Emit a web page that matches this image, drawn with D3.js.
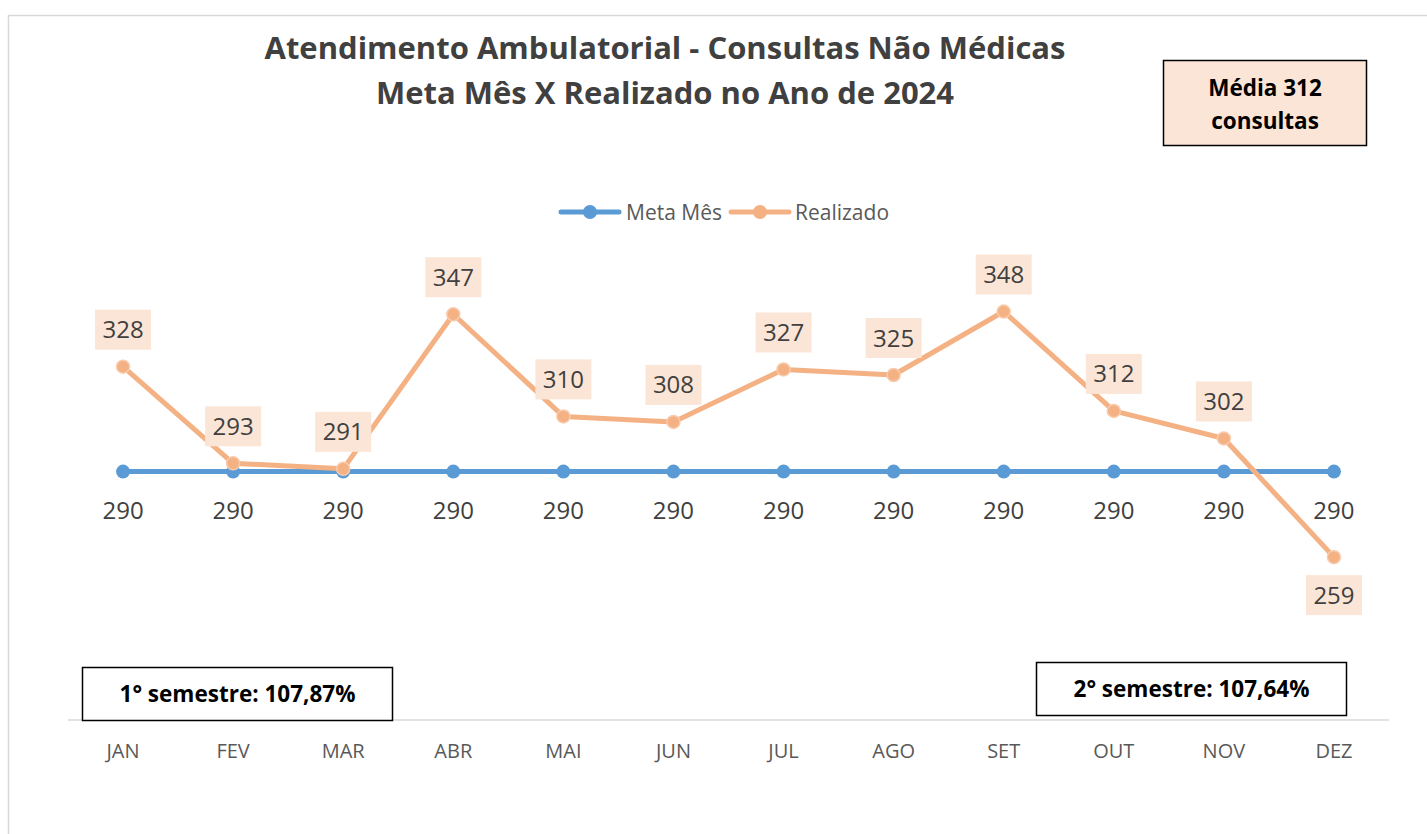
<!DOCTYPE html>
<html>
<head>
<meta charset="utf-8">
<script src="https://cdn.jsdelivr.net/npm/d3@7"></script>
<style>
  body { margin: 0; background: #fff; }
  svg { display: block; font-family: "Open Sans", sans-serif; }
</style>
</head>
<body>
<svg id="chart"></svg>
<script>
// Chart data
const months = ['JAN', 'FEV', 'MAR', 'ABR', 'MAI', 'JUN', 'JUL', 'AGO', 'SET', 'OUT', 'NOV', 'DEZ'];
const metaMes = [290, 290, 290, 290, 290, 290, 290, 290, 290, 290, 290, 290];
const realizado = [328, 293, 291, 347, 310, 308, 327, 325, 348, 312, 302, 259];
const titleLines = ['Atendimento Ambulatorial - Consultas Não Médicas', 'Meta Mês X Realizado no Ano de 2024'];
const mediaLines = ['Média 312', 'consultas'];
const semestreLabels = ['1° semestre: 107,87%', '2° semestre: 107,64%'];

const W = 1427, H = 834;
const blue = '#5B9BD5', orange = '#F4B183', peach = '#FBE5D6';

const svg = d3.select('#chart').attr('width', W).attr('height', H);

// faint outer frame of the chart area
svg.append('path')
    .attr('d', `M8.5,${H} L8.5,15.5 L${W},15.5`)
    .attr('fill', 'none')
    .attr('stroke', '#d9d9d9')
    .attr('stroke-width', 1.5);

// Scales
const x = d3.scaleBand().domain(months).range([68, 1389]);
const y = d3.scaleLinear().domain([200, 400]).range([720, 168]);
const cx = m => x(m) + x.bandwidth() / 2;

// Title
svg.append('g').selectAll('text')
    .data(titleLines)
  .join('text')
    .attr('x', 665)
    .attr('y', (d, i) => 59 + i * 45)
    .attr('text-anchor', 'middle')
    .attr('font-size', 31)
    .attr('font-weight', 700)
    .attr('fill', '#404040')
    .text(d => d);

// Média box
const media = svg.append('g');
media.append('rect')
    .attr('x', 1163.5).attr('y', 60.5)
    .attr('width', 203).attr('height', 85)
    .attr('fill', peach).attr('stroke', '#000').attr('stroke-width', 1.5);
media.selectAll('text')
    .data(mediaLines)
  .join('text')
    .attr('x', 1265)
    .attr('y', (d, i) => 96 + i * 33)
    .attr('text-anchor', 'middle')
    .attr('font-size', 22.5)
    .attr('font-weight', 700)
    .attr('fill', '#000')
    .text(d => d);

// Legend
const legend = svg.append('g');
const legendItems = [
  { name: 'Meta Mês', color: blue, x0: 561, tx: 626 },
  { name: 'Realizado', color: orange, x0: 731, tx: 795 }
];
legendItems.forEach(it => {
  legend.append('line')
      .attr('x1', it.x0).attr('x2', it.x0 + 58)
      .attr('y1', 212).attr('y2', 212)
      .attr('stroke', it.color).attr('stroke-width', 5).attr('stroke-linecap', 'round');
  legend.append('circle')
      .attr('cx', it.x0 + 29).attr('cy', 212).attr('r', 7)
      .attr('fill', it.color);
  legend.append('text')
      .attr('x', it.tx).attr('y', 219.5)
      .attr('font-size', 21)
      .attr('fill', '#595959')
      .text(it.name);
});

// X axis
svg.append('line')
    .attr('x1', 68).attr('x2', 1389)
    .attr('y1', 720).attr('y2', 720)
    .attr('stroke', '#d9d9d9').attr('stroke-width', 1.5);
svg.append('g').selectAll('text')
    .data(months)
  .join('text')
    .attr('x', d => cx(d))
    .attr('y', 758)
    .attr('text-anchor', 'middle')
    .attr('font-size', 20)
    .attr('fill', '#595959')
    .text(d => d);

// Semester boxes
const semBoxes = [
  { x0: 82.5, y0: 667.5, w: 310, h: 53 },
  { x0: 1036.5, y0: 662.5, w: 310, h: 53 }
];
semBoxes.forEach((b, i) => {
  svg.append('rect')
      .attr('x', b.x0).attr('y', b.y0).attr('width', b.w).attr('height', b.h)
      .attr('fill', '#fff').attr('stroke', '#000').attr('stroke-width', 1.5);
  svg.append('text')
      .attr('x', b.x0 + b.w / 2).attr('y', b.y0 + b.h / 2 + 8)
      .attr('text-anchor', 'middle')
      .attr('font-size', 22.5)
      .attr('font-weight', 700)
      .attr('fill', '#000')
      .text(semestreLabels[i]);
});

// Lines
const line = d3.line().x(d => cx(d.m)).y(d => y(d.v));
const metaData = months.map((m, i) => ({ m, v: metaMes[i] }));
const realData = months.map((m, i) => ({ m, v: realizado[i] }));

svg.append('path')
    .datum(metaData)
    .attr('d', line)
    .attr('fill', 'none')
    .attr('stroke', blue).attr('stroke-width', 5);
svg.append('g').selectAll('circle')
    .data(metaData)
  .join('circle')
    .attr('cx', d => cx(d.m)).attr('cy', d => y(d.v)).attr('r', 7)
    .attr('fill', blue);

svg.append('path')
    .datum(realData)
    .attr('d', line)
    .attr('fill', 'none')
    .attr('stroke', orange).attr('stroke-width', 5)
    .attr('stroke-linejoin', 'round');
svg.append('g').selectAll('circle')
    .data(realData)
  .join('circle')
    .attr('cx', d => cx(d.m)).attr('cy', d => y(d.v)).attr('r', 6.5)
    .attr('fill', orange).attr('stroke', '#F8CBAD').attr('stroke-width', 1.5);

// Meta labels (below)
svg.append('g').selectAll('text')
    .data(metaData)
  .join('text')
    .attr('x', d => cx(d.m)).attr('y', d => y(d.v) + 47)
    .attr('text-anchor', 'middle')
    .attr('font-size', 24)
    .attr('fill', '#404040')
    .text(d => d.v);

// Realizado labels with peach background; below the point when under the goal
const lab = svg.append('g').selectAll('g')
    .data(realData)
  .join('g')
    .attr('transform', d => {
      const dy = d.v < metaMes[0] ? 38 : -37;
      return `translate(${cx(d.m)},${y(d.v) + dy})`;
    });
lab.append('rect')
    .attr('x', -28).attr('y', -20).attr('width', 56).attr('height', 40)
    .attr('fill', peach);
lab.append('text')
    .attr('y', 8.5)
    .attr('text-anchor', 'middle')
    .attr('font-size', 24)
    .attr('fill', '#404040')
    .text(d => d.v);
</script>
</body>
</html>
